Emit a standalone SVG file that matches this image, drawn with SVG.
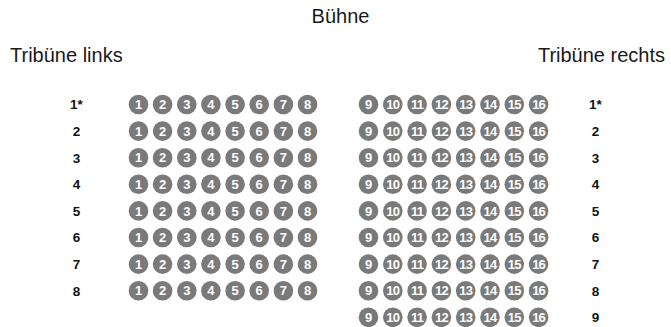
<svg xmlns="http://www.w3.org/2000/svg" width="671" height="327" viewBox="0 0 671 327">
<style>
.t{font-family:"Liberation Sans",Arial,sans-serif;font-size:20px;fill:#1a1a1a}
.r{font-family:"Liberation Sans",Arial,sans-serif;font-size:13.5px;font-weight:bold;fill:#111;text-anchor:middle}
.s circle{fill:#7a7a7a}
.s text{font-family:"Liberation Sans",Arial,sans-serif;font-size:13px;font-weight:bold;fill:#fff;text-anchor:middle}
.s text.d{letter-spacing:-0.8px}
</style>
<rect width="671" height="327" fill="#fff"/>
<g id="titles">
<text class="t" x="340.5" y="23" text-anchor="middle">Bühne</text>
<text class="t" x="10" y="62">Tribüne links</text>
<text class="t" x="665" y="62" text-anchor="end">Tribüne rechts</text>
</g>
<g id="row-labels-left">
<text class="r" x="76.5" y="109.3">1*</text>
<text class="r" x="76.5" y="135.9">2</text>
<text class="r" x="76.5" y="162.5">3</text>
<text class="r" x="76.5" y="189.1">4</text>
<text class="r" x="76.5" y="215.7">5</text>
<text class="r" x="76.5" y="242.3">6</text>
<text class="r" x="76.5" y="268.9">7</text>
<text class="r" x="76.5" y="295.5">8</text>
</g>
<g id="row-labels-right">
<text class="r" x="595.5" y="109.3">1*</text>
<text class="r" x="595.5" y="135.9">2</text>
<text class="r" x="595.5" y="162.5">3</text>
<text class="r" x="595.5" y="189.1">4</text>
<text class="r" x="595.5" y="215.7">5</text>
<text class="r" x="595.5" y="242.3">6</text>
<text class="r" x="595.5" y="268.9">7</text>
<text class="r" x="595.5" y="295.5">8</text>
<text class="r" x="595.5" y="322.1">9</text>
</g>
<g id="left-block" class="s">
<g id="L-row1" transform="translate(0,104.5)">
<g id="L1-1"><circle cx="138.5" cy="0" r="9.8"/><text x="138.5" y="4.7">1</text></g>
<g id="L1-2"><circle cx="162.6" cy="0" r="9.8"/><text x="162.6" y="4.7">2</text></g>
<g id="L1-3"><circle cx="186.8" cy="0" r="9.8"/><text x="186.8" y="4.7">3</text></g>
<g id="L1-4"><circle cx="210.9" cy="0" r="9.8"/><text x="210.9" y="4.7">4</text></g>
<g id="L1-5"><circle cx="235.1" cy="0" r="9.8"/><text x="235.1" y="4.7">5</text></g>
<g id="L1-6"><circle cx="259.2" cy="0" r="9.8"/><text x="259.2" y="4.7">6</text></g>
<g id="L1-7"><circle cx="283.4" cy="0" r="9.8"/><text x="283.4" y="4.7">7</text></g>
<g id="L1-8"><circle cx="307.5" cy="0" r="9.8"/><text x="307.5" y="4.7">8</text></g>
</g>
<g id="L-row2" transform="translate(0,131.1)">
<g id="L2-1"><circle cx="138.5" cy="0" r="9.8"/><text x="138.5" y="4.7">1</text></g>
<g id="L2-2"><circle cx="162.6" cy="0" r="9.8"/><text x="162.6" y="4.7">2</text></g>
<g id="L2-3"><circle cx="186.8" cy="0" r="9.8"/><text x="186.8" y="4.7">3</text></g>
<g id="L2-4"><circle cx="210.9" cy="0" r="9.8"/><text x="210.9" y="4.7">4</text></g>
<g id="L2-5"><circle cx="235.1" cy="0" r="9.8"/><text x="235.1" y="4.7">5</text></g>
<g id="L2-6"><circle cx="259.2" cy="0" r="9.8"/><text x="259.2" y="4.7">6</text></g>
<g id="L2-7"><circle cx="283.4" cy="0" r="9.8"/><text x="283.4" y="4.7">7</text></g>
<g id="L2-8"><circle cx="307.5" cy="0" r="9.8"/><text x="307.5" y="4.7">8</text></g>
</g>
<g id="L-row3" transform="translate(0,157.7)">
<g id="L3-1"><circle cx="138.5" cy="0" r="9.8"/><text x="138.5" y="4.7">1</text></g>
<g id="L3-2"><circle cx="162.6" cy="0" r="9.8"/><text x="162.6" y="4.7">2</text></g>
<g id="L3-3"><circle cx="186.8" cy="0" r="9.8"/><text x="186.8" y="4.7">3</text></g>
<g id="L3-4"><circle cx="210.9" cy="0" r="9.8"/><text x="210.9" y="4.7">4</text></g>
<g id="L3-5"><circle cx="235.1" cy="0" r="9.8"/><text x="235.1" y="4.7">5</text></g>
<g id="L3-6"><circle cx="259.2" cy="0" r="9.8"/><text x="259.2" y="4.7">6</text></g>
<g id="L3-7"><circle cx="283.4" cy="0" r="9.8"/><text x="283.4" y="4.7">7</text></g>
<g id="L3-8"><circle cx="307.5" cy="0" r="9.8"/><text x="307.5" y="4.7">8</text></g>
</g>
<g id="L-row4" transform="translate(0,184.3)">
<g id="L4-1"><circle cx="138.5" cy="0" r="9.8"/><text x="138.5" y="4.7">1</text></g>
<g id="L4-2"><circle cx="162.6" cy="0" r="9.8"/><text x="162.6" y="4.7">2</text></g>
<g id="L4-3"><circle cx="186.8" cy="0" r="9.8"/><text x="186.8" y="4.7">3</text></g>
<g id="L4-4"><circle cx="210.9" cy="0" r="9.8"/><text x="210.9" y="4.7">4</text></g>
<g id="L4-5"><circle cx="235.1" cy="0" r="9.8"/><text x="235.1" y="4.7">5</text></g>
<g id="L4-6"><circle cx="259.2" cy="0" r="9.8"/><text x="259.2" y="4.7">6</text></g>
<g id="L4-7"><circle cx="283.4" cy="0" r="9.8"/><text x="283.4" y="4.7">7</text></g>
<g id="L4-8"><circle cx="307.5" cy="0" r="9.8"/><text x="307.5" y="4.7">8</text></g>
</g>
<g id="L-row5" transform="translate(0,210.9)">
<g id="L5-1"><circle cx="138.5" cy="0" r="9.8"/><text x="138.5" y="4.7">1</text></g>
<g id="L5-2"><circle cx="162.6" cy="0" r="9.8"/><text x="162.6" y="4.7">2</text></g>
<g id="L5-3"><circle cx="186.8" cy="0" r="9.8"/><text x="186.8" y="4.7">3</text></g>
<g id="L5-4"><circle cx="210.9" cy="0" r="9.8"/><text x="210.9" y="4.7">4</text></g>
<g id="L5-5"><circle cx="235.1" cy="0" r="9.8"/><text x="235.1" y="4.7">5</text></g>
<g id="L5-6"><circle cx="259.2" cy="0" r="9.8"/><text x="259.2" y="4.7">6</text></g>
<g id="L5-7"><circle cx="283.4" cy="0" r="9.8"/><text x="283.4" y="4.7">7</text></g>
<g id="L5-8"><circle cx="307.5" cy="0" r="9.8"/><text x="307.5" y="4.7">8</text></g>
</g>
<g id="L-row6" transform="translate(0,237.5)">
<g id="L6-1"><circle cx="138.5" cy="0" r="9.8"/><text x="138.5" y="4.7">1</text></g>
<g id="L6-2"><circle cx="162.6" cy="0" r="9.8"/><text x="162.6" y="4.7">2</text></g>
<g id="L6-3"><circle cx="186.8" cy="0" r="9.8"/><text x="186.8" y="4.7">3</text></g>
<g id="L6-4"><circle cx="210.9" cy="0" r="9.8"/><text x="210.9" y="4.7">4</text></g>
<g id="L6-5"><circle cx="235.1" cy="0" r="9.8"/><text x="235.1" y="4.7">5</text></g>
<g id="L6-6"><circle cx="259.2" cy="0" r="9.8"/><text x="259.2" y="4.7">6</text></g>
<g id="L6-7"><circle cx="283.4" cy="0" r="9.8"/><text x="283.4" y="4.7">7</text></g>
<g id="L6-8"><circle cx="307.5" cy="0" r="9.8"/><text x="307.5" y="4.7">8</text></g>
</g>
<g id="L-row7" transform="translate(0,264.1)">
<g id="L7-1"><circle cx="138.5" cy="0" r="9.8"/><text x="138.5" y="4.7">1</text></g>
<g id="L7-2"><circle cx="162.6" cy="0" r="9.8"/><text x="162.6" y="4.7">2</text></g>
<g id="L7-3"><circle cx="186.8" cy="0" r="9.8"/><text x="186.8" y="4.7">3</text></g>
<g id="L7-4"><circle cx="210.9" cy="0" r="9.8"/><text x="210.9" y="4.7">4</text></g>
<g id="L7-5"><circle cx="235.1" cy="0" r="9.8"/><text x="235.1" y="4.7">5</text></g>
<g id="L7-6"><circle cx="259.2" cy="0" r="9.8"/><text x="259.2" y="4.7">6</text></g>
<g id="L7-7"><circle cx="283.4" cy="0" r="9.8"/><text x="283.4" y="4.7">7</text></g>
<g id="L7-8"><circle cx="307.5" cy="0" r="9.8"/><text x="307.5" y="4.7">8</text></g>
</g>
<g id="L-row8" transform="translate(0,290.7)">
<g id="L8-1"><circle cx="138.5" cy="0" r="9.8"/><text x="138.5" y="4.7">1</text></g>
<g id="L8-2"><circle cx="162.6" cy="0" r="9.8"/><text x="162.6" y="4.7">2</text></g>
<g id="L8-3"><circle cx="186.8" cy="0" r="9.8"/><text x="186.8" y="4.7">3</text></g>
<g id="L8-4"><circle cx="210.9" cy="0" r="9.8"/><text x="210.9" y="4.7">4</text></g>
<g id="L8-5"><circle cx="235.1" cy="0" r="9.8"/><text x="235.1" y="4.7">5</text></g>
<g id="L8-6"><circle cx="259.2" cy="0" r="9.8"/><text x="259.2" y="4.7">6</text></g>
<g id="L8-7"><circle cx="283.4" cy="0" r="9.8"/><text x="283.4" y="4.7">7</text></g>
<g id="L8-8"><circle cx="307.5" cy="0" r="9.8"/><text x="307.5" y="4.7">8</text></g>
</g>
</g>
<g id="right-block" class="s">
<g id="R-row1" transform="translate(0,104.5)">
<g id="R1-9"><circle cx="368.5" cy="0" r="9.8"/><text x="368.5" y="4.7">9</text></g>
<g id="R1-10"><circle cx="392.8" cy="0" r="9.8"/><text class="d" x="392.8" y="4.7">10</text></g>
<g id="R1-11"><circle cx="417.1" cy="0" r="9.8"/><text class="d" x="417.1" y="4.7">11</text></g>
<g id="R1-12"><circle cx="441.4" cy="0" r="9.8"/><text class="d" x="441.4" y="4.7">12</text></g>
<g id="R1-13"><circle cx="465.7" cy="0" r="9.8"/><text class="d" x="465.7" y="4.7">13</text></g>
<g id="R1-14"><circle cx="490" cy="0" r="9.8"/><text class="d" x="490" y="4.7">14</text></g>
<g id="R1-15"><circle cx="514.3" cy="0" r="9.8"/><text class="d" x="514.3" y="4.7">15</text></g>
<g id="R1-16"><circle cx="538.6" cy="0" r="9.8"/><text class="d" x="538.6" y="4.7">16</text></g>
</g>
<g id="R-row2" transform="translate(0,131.1)">
<g id="R2-9"><circle cx="368.5" cy="0" r="9.8"/><text x="368.5" y="4.7">9</text></g>
<g id="R2-10"><circle cx="392.8" cy="0" r="9.8"/><text class="d" x="392.8" y="4.7">10</text></g>
<g id="R2-11"><circle cx="417.1" cy="0" r="9.8"/><text class="d" x="417.1" y="4.7">11</text></g>
<g id="R2-12"><circle cx="441.4" cy="0" r="9.8"/><text class="d" x="441.4" y="4.7">12</text></g>
<g id="R2-13"><circle cx="465.7" cy="0" r="9.8"/><text class="d" x="465.7" y="4.7">13</text></g>
<g id="R2-14"><circle cx="490" cy="0" r="9.8"/><text class="d" x="490" y="4.7">14</text></g>
<g id="R2-15"><circle cx="514.3" cy="0" r="9.8"/><text class="d" x="514.3" y="4.7">15</text></g>
<g id="R2-16"><circle cx="538.6" cy="0" r="9.8"/><text class="d" x="538.6" y="4.7">16</text></g>
</g>
<g id="R-row3" transform="translate(0,157.7)">
<g id="R3-9"><circle cx="368.5" cy="0" r="9.8"/><text x="368.5" y="4.7">9</text></g>
<g id="R3-10"><circle cx="392.8" cy="0" r="9.8"/><text class="d" x="392.8" y="4.7">10</text></g>
<g id="R3-11"><circle cx="417.1" cy="0" r="9.8"/><text class="d" x="417.1" y="4.7">11</text></g>
<g id="R3-12"><circle cx="441.4" cy="0" r="9.8"/><text class="d" x="441.4" y="4.7">12</text></g>
<g id="R3-13"><circle cx="465.7" cy="0" r="9.8"/><text class="d" x="465.7" y="4.7">13</text></g>
<g id="R3-14"><circle cx="490" cy="0" r="9.8"/><text class="d" x="490" y="4.7">14</text></g>
<g id="R3-15"><circle cx="514.3" cy="0" r="9.8"/><text class="d" x="514.3" y="4.7">15</text></g>
<g id="R3-16"><circle cx="538.6" cy="0" r="9.8"/><text class="d" x="538.6" y="4.7">16</text></g>
</g>
<g id="R-row4" transform="translate(0,184.3)">
<g id="R4-9"><circle cx="368.5" cy="0" r="9.8"/><text x="368.5" y="4.7">9</text></g>
<g id="R4-10"><circle cx="392.8" cy="0" r="9.8"/><text class="d" x="392.8" y="4.7">10</text></g>
<g id="R4-11"><circle cx="417.1" cy="0" r="9.8"/><text class="d" x="417.1" y="4.7">11</text></g>
<g id="R4-12"><circle cx="441.4" cy="0" r="9.8"/><text class="d" x="441.4" y="4.7">12</text></g>
<g id="R4-13"><circle cx="465.7" cy="0" r="9.8"/><text class="d" x="465.7" y="4.7">13</text></g>
<g id="R4-14"><circle cx="490" cy="0" r="9.8"/><text class="d" x="490" y="4.7">14</text></g>
<g id="R4-15"><circle cx="514.3" cy="0" r="9.8"/><text class="d" x="514.3" y="4.7">15</text></g>
<g id="R4-16"><circle cx="538.6" cy="0" r="9.8"/><text class="d" x="538.6" y="4.7">16</text></g>
</g>
<g id="R-row5" transform="translate(0,210.9)">
<g id="R5-9"><circle cx="368.5" cy="0" r="9.8"/><text x="368.5" y="4.7">9</text></g>
<g id="R5-10"><circle cx="392.8" cy="0" r="9.8"/><text class="d" x="392.8" y="4.7">10</text></g>
<g id="R5-11"><circle cx="417.1" cy="0" r="9.8"/><text class="d" x="417.1" y="4.7">11</text></g>
<g id="R5-12"><circle cx="441.4" cy="0" r="9.8"/><text class="d" x="441.4" y="4.7">12</text></g>
<g id="R5-13"><circle cx="465.7" cy="0" r="9.8"/><text class="d" x="465.7" y="4.7">13</text></g>
<g id="R5-14"><circle cx="490" cy="0" r="9.8"/><text class="d" x="490" y="4.7">14</text></g>
<g id="R5-15"><circle cx="514.3" cy="0" r="9.8"/><text class="d" x="514.3" y="4.7">15</text></g>
<g id="R5-16"><circle cx="538.6" cy="0" r="9.8"/><text class="d" x="538.6" y="4.7">16</text></g>
</g>
<g id="R-row6" transform="translate(0,237.5)">
<g id="R6-9"><circle cx="368.5" cy="0" r="9.8"/><text x="368.5" y="4.7">9</text></g>
<g id="R6-10"><circle cx="392.8" cy="0" r="9.8"/><text class="d" x="392.8" y="4.7">10</text></g>
<g id="R6-11"><circle cx="417.1" cy="0" r="9.8"/><text class="d" x="417.1" y="4.7">11</text></g>
<g id="R6-12"><circle cx="441.4" cy="0" r="9.8"/><text class="d" x="441.4" y="4.7">12</text></g>
<g id="R6-13"><circle cx="465.7" cy="0" r="9.8"/><text class="d" x="465.7" y="4.7">13</text></g>
<g id="R6-14"><circle cx="490" cy="0" r="9.8"/><text class="d" x="490" y="4.7">14</text></g>
<g id="R6-15"><circle cx="514.3" cy="0" r="9.8"/><text class="d" x="514.3" y="4.7">15</text></g>
<g id="R6-16"><circle cx="538.6" cy="0" r="9.8"/><text class="d" x="538.6" y="4.7">16</text></g>
</g>
<g id="R-row7" transform="translate(0,264.1)">
<g id="R7-9"><circle cx="368.5" cy="0" r="9.8"/><text x="368.5" y="4.7">9</text></g>
<g id="R7-10"><circle cx="392.8" cy="0" r="9.8"/><text class="d" x="392.8" y="4.7">10</text></g>
<g id="R7-11"><circle cx="417.1" cy="0" r="9.8"/><text class="d" x="417.1" y="4.7">11</text></g>
<g id="R7-12"><circle cx="441.4" cy="0" r="9.8"/><text class="d" x="441.4" y="4.7">12</text></g>
<g id="R7-13"><circle cx="465.7" cy="0" r="9.8"/><text class="d" x="465.7" y="4.7">13</text></g>
<g id="R7-14"><circle cx="490" cy="0" r="9.8"/><text class="d" x="490" y="4.7">14</text></g>
<g id="R7-15"><circle cx="514.3" cy="0" r="9.8"/><text class="d" x="514.3" y="4.7">15</text></g>
<g id="R7-16"><circle cx="538.6" cy="0" r="9.8"/><text class="d" x="538.6" y="4.7">16</text></g>
</g>
<g id="R-row8" transform="translate(0,290.7)">
<g id="R8-9"><circle cx="368.5" cy="0" r="9.8"/><text x="368.5" y="4.7">9</text></g>
<g id="R8-10"><circle cx="392.8" cy="0" r="9.8"/><text class="d" x="392.8" y="4.7">10</text></g>
<g id="R8-11"><circle cx="417.1" cy="0" r="9.8"/><text class="d" x="417.1" y="4.7">11</text></g>
<g id="R8-12"><circle cx="441.4" cy="0" r="9.8"/><text class="d" x="441.4" y="4.7">12</text></g>
<g id="R8-13"><circle cx="465.7" cy="0" r="9.8"/><text class="d" x="465.7" y="4.7">13</text></g>
<g id="R8-14"><circle cx="490" cy="0" r="9.8"/><text class="d" x="490" y="4.7">14</text></g>
<g id="R8-15"><circle cx="514.3" cy="0" r="9.8"/><text class="d" x="514.3" y="4.7">15</text></g>
<g id="R8-16"><circle cx="538.6" cy="0" r="9.8"/><text class="d" x="538.6" y="4.7">16</text></g>
</g>
<g id="R-row9" transform="translate(0,317.3)">
<g id="R9-9"><circle cx="368.5" cy="0" r="9.8"/><text x="368.5" y="4.7">9</text></g>
<g id="R9-10"><circle cx="392.8" cy="0" r="9.8"/><text class="d" x="392.8" y="4.7">10</text></g>
<g id="R9-11"><circle cx="417.1" cy="0" r="9.8"/><text class="d" x="417.1" y="4.7">11</text></g>
<g id="R9-12"><circle cx="441.4" cy="0" r="9.8"/><text class="d" x="441.4" y="4.7">12</text></g>
<g id="R9-13"><circle cx="465.7" cy="0" r="9.8"/><text class="d" x="465.7" y="4.7">13</text></g>
<g id="R9-14"><circle cx="490" cy="0" r="9.8"/><text class="d" x="490" y="4.7">14</text></g>
<g id="R9-15"><circle cx="514.3" cy="0" r="9.8"/><text class="d" x="514.3" y="4.7">15</text></g>
<g id="R9-16"><circle cx="538.6" cy="0" r="9.8"/><text class="d" x="538.6" y="4.7">16</text></g>
</g>
</g>
</svg>
